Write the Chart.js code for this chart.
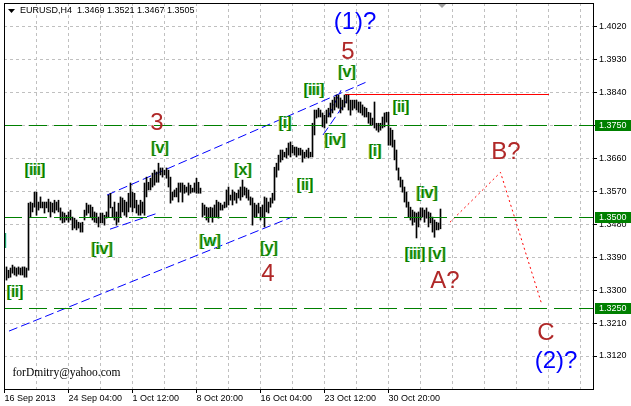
<!DOCTYPE html>
<html>
<head>
<meta charset="utf-8">
<style>
  html, body { margin: 0; padding: 0; background: #fff; }
  canvas { display: block; }
</style>
</head>
<body>
<canvas id="waveChart" width="631" height="406"></canvas>

<script src="https://cdn.jsdelivr.net/npm/chart.js@4.4.0/dist/chart.umd.min.js"></script>

<script>
// EURUSD H4, bar highs / lows (first bar = index 1)
const symbol = 'EURUSD,H4';
const lastQuote = [1.3469, 1.3521, 1.3467, 1.3505];
const firstBar = 1;

const barHigh = [
  1.3363,1.3354,1.3360,1.3368,1.3363,1.3360,1.3363,1.3360,1.3363,1.3363,1.3360,
  1.3537,1.3540,1.3537,1.3567,1.3567,1.3540,1.3554,1.3540,1.3540,1.3540,1.3548,1.3540,1.3537,1.3545,1.3540,1.3545,
  1.3524,1.3513,1.3510,1.3504,1.3513,1.3518,1.3499,1.3496,1.3491,1.3485,1.3483,1.3485,
  1.3518,1.3537,1.3532,1.3532,1.3526,1.3513,1.3510,1.3499,1.3510,1.3510,1.3504,1.3513,1.3559,
  1.3564,1.3526,1.3540,1.3513,1.3537,1.3554,1.3551,1.3545,1.3540,1.3564,1.3592,1.3567,1.3564,1.3545,1.3532,1.3545,1.3540,1.3592,
  1.3608,1.3594,1.3605,1.3619,1.3627,1.3622,1.3646,1.3633,1.3633,1.3627,1.3633,1.3627,1.3608,
  1.3567,1.3573,1.3578,1.3592,1.3592,1.3592,1.3586,1.3581,1.3592,1.3586,1.3578,1.3592,1.3605,1.3594,1.3578,
  1.3537,1.3532,1.3526,1.3524,1.3526,1.3524,1.3532,1.3545,1.3540,
  1.3537,1.3532,1.3540,1.3573,1.3581,1.3559,1.3573,1.3567,1.3564,1.3573,1.3581,1.3600,1.3581,1.3578,
  1.3573,1.3554,1.3551,1.3537,1.3532,1.3537,1.3526,1.3532,1.3554,1.3551,1.3540,1.3551,1.3564,
  1.3635,1.3646,1.3668,1.3682,1.3682,1.3676,1.3687,1.3701,1.3704,1.3695,1.3690,1.3690,1.3687,1.3687,
  1.3682,1.3676,1.3682,1.3687,1.3676,1.3755,1.3791,1.3791,1.3796,1.3791,1.3783,1.3777,1.3791,1.3796,
  1.3810,1.3818,1.3826,1.3832,1.3832,1.3824,1.3818,1.3832,1.3832,1.3832,1.3818,1.3818,1.3818,1.3818,
  1.3813,1.3813,1.3805,1.3799,1.3796,1.3785,1.3783,1.3769,1.3813,1.3755,1.3755,1.3755,1.3772,1.3783,
  1.3785,1.3785,1.3742,1.3736,1.3709,1.3682,1.3633,1.3608,1.3600,1.3581,1.3567,1.3540,1.3526,1.3518,
  1.3513,1.3510,1.3513,1.3524,1.3524,1.3518,1.3524,1.3513,1.3510,1.3499,1.3491,1.3485,1.3483,1.3521
];
const barLow = [
  1.3327,1.3333,1.3335,1.3346,1.3341,1.3338,1.3343,1.3341,1.3341,1.3335,1.3335,
  1.3354,1.3499,1.3513,1.3526,1.3504,1.3518,1.3524,1.3524,1.3510,1.3524,1.3513,1.3499,1.3513,1.3510,1.3518,1.3513,
  1.3491,1.3483,1.3485,1.3491,1.3485,1.3491,1.3464,1.3469,1.3464,1.3469,1.3458,1.3458,
  1.3491,1.3504,1.3510,1.3499,1.3491,1.3485,1.3483,1.3472,1.3483,1.3483,1.3477,1.3496,1.3499,
  1.3524,1.3499,1.3491,1.3477,1.3485,1.3499,1.3513,1.3504,1.3499,1.3513,1.3526,1.3513,1.3524,1.3510,1.3504,1.3504,1.3510,1.3504,
  1.3554,1.3573,1.3573,1.3581,1.3586,1.3594,1.3594,1.3614,1.3608,1.3614,1.3605,1.3581,1.3537,
  1.3545,1.3554,1.3554,1.3540,1.3567,1.3540,1.3564,1.3567,1.3559,1.3564,1.3567,1.3567,1.3564,1.3564,1.3564,
  1.3499,1.3504,1.3491,1.3485,1.3499,1.3485,1.3499,1.3499,1.3496,
  1.3518,1.3518,1.3524,1.3526,1.3532,1.3545,1.3532,1.3545,1.3537,1.3551,1.3545,1.3554,1.3559,1.3551,
  1.3545,1.3532,1.3477,1.3499,1.3499,1.3510,1.3491,1.3499,1.3472,1.3513,1.3510,1.3526,1.3537,
  1.3545,1.3608,1.3627,1.3649,1.3655,1.3663,1.3660,1.3668,1.3663,1.3674,1.3668,1.3663,1.3668,1.3668,
  1.3649,1.3660,1.3663,1.3660,1.3663,1.3663,1.3723,1.3769,1.3772,1.3772,1.3745,1.3742,1.3755,1.3772,
  1.3772,1.3783,1.3791,1.3799,1.3796,1.3783,1.3791,1.3799,1.3810,1.3791,1.3777,1.3791,1.3796,1.3791,
  1.3785,1.3783,1.3777,1.3772,1.3772,1.3755,1.3750,1.3750,1.3742,1.3736,1.3731,1.3736,1.3742,1.3745,
  1.3758,1.3695,1.3695,1.3690,1.3655,1.3627,1.3600,1.3581,1.3567,1.3540,1.3526,1.3499,1.3491,1.3477,
  1.3485,1.3442,1.3472,1.3491,1.3499,1.3485,1.3496,1.3472,1.3483,1.3458,1.3444,1.3464,1.3464,1.3467
];

// time axis: a grid line every 16 bars, a label every 32
const gridBars = [0,16,32,48,64,80,96,112,128,144,160,176,192,208,224,240,256,272,288];
const tickBars = [0, 32, 64, 96, 128, 160, 192];
const tickTexts = ['16 Sep 2013', '24 Sep 04:00', '1 Oct 12:00', '8 Oct 20:00', '16 Oct 04:00', '23 Oct 12:00', '30 Oct 20:00'];

// price axis
const priceTicks = [1.3120, 1.3210, 1.3300, 1.3390, 1.3480, 1.3570, 1.3660, 1.3750, 1.3840, 1.3930, 1.4020];
const keyLevels = [1.3750, 1.3500, 1.3250];

// analyst drawings, in [bar, price]
const channelFrom = [[2.25, 1.3188], [51.25, 1.3559], [52.75, 1.3466], [159.25, 1.3723], [161.75, 1.3772]];
const channelTo   = [[143.75, 1.3499], [180.75, 1.3867], [76.75, 1.3510], [171.25, 1.3818], [168.25, 1.3845]];
const targetPath  = [[222.75, 1.3485], [248.0, 1.3621], [268.75, 1.3259]];
const peakLevel = 1.3834, peakFrom = 170.25, peakTo = 272.25;

// wave counts
const waveText  = ['[i]','[ii]','[iii]','[iv]','[v]','3','[w]','[x]','[y]','4','[i]','[ii]','[iii]','[iv]','[v]','5','(1)?',
                   '[i]','[ii]','[iii]','[iv]','[v]','A?','B?','C','(2)?'];
const waveBar   = [-2.25, 5.25, 15.25, 48.75, 77.75, 76.25, 102.75, 119.25, 132.25, 131.75, 140.25, 150.25, 154.75, 165.25, 171.25, 171.75, 175.25,
                   185.25, 198.25, 205.25, 211.25, 216.25, 220.25, 250.75, 270.75, 275.75];
const wavePrice = [1.3436, 1.3294, 1.3627, 1.3409, 1.3687, 1.3761, 1.3431, 1.3627, 1.3414, 1.3349, 1.3755, 1.3584, 1.3845, 1.3709, 1.3892, 1.3955, 1.4030,
                   1.3679, 1.3799, 1.3398, 1.3562, 1.3398, 1.3330, 1.3682, 1.3188, 1.3103];
const waveDegree = ['m','m','m','m','m','M','m','m','m','M','m','m','m','m','m','M','I',
                    'm','m','m','m','m','M','M','M','I'];

const degreeStyle = {
  m: { color: '#137a00', size: 17, fringe: true },
  M: { color: '#b02828', size: 24, fringe: false },
  I: { color: '#0000ff', size: 24, fringe: false }
};

const FONT = '"Liberation Sans", Arial, sans-serif';

const bars = barHigh.map((h, i) => ({ x: firstBar + i, y: [barLow[i], h] }));

function clipArea(ctx, a) {
  ctx.beginPath();
  ctx.rect(a.left, a.top, a.right - a.left, a.bottom - a.top);
  ctx.clip();
}

const drawings = {
  id: 'drawings',
  beforeDatasetsDraw(chart) {
    const { ctx, chartArea: a, scales: { x, y } } = chart;
    ctx.save();
    clipArea(ctx, a);
    ctx.lineWidth = 1;

    // top of wave 5
    ctx.strokeStyle = '#ff0000';
    const ry = Math.round(y.getPixelForValue(peakLevel)) + 0.5;
    ctx.beginPath(); ctx.moveTo(x.getPixelForValue(peakFrom), ry); ctx.lineTo(x.getPixelForValue(peakTo), ry); ctx.stroke();

    // channels
    ctx.strokeStyle = '#0000ff';
    ctx.setLineDash([9, 4]);
    channelFrom.forEach((p, i) => {
      const q = channelTo[i];
      ctx.beginPath();
      ctx.moveTo(x.getPixelForValue(p[0]), y.getPixelForValue(p[1]));
      ctx.lineTo(x.getPixelForValue(q[0]), y.getPixelForValue(q[1]));
      ctx.stroke();
    });

    // expected A-B-C path
    ctx.strokeStyle = '#ff0000';
    ctx.setLineDash([2, 3]);
    ctx.beginPath();
    targetPath.forEach((p, i) => {
      const px = x.getPixelForValue(p[0]), py = y.getPixelForValue(p[1]);
      if (i === 0) ctx.moveTo(px, py); else ctx.lineTo(px, py);
    });
    ctx.stroke();
    ctx.restore();
  },
  afterDatasetsDraw(chart) {
    const { ctx, chartArea: a, scales: { x, y } } = chart;
    ctx.save();
    clipArea(ctx, a);

    // support / resistance levels
    ctx.lineWidth = 1;
    ctx.strokeStyle = '#008000';
    ctx.setLineDash([18, 7]);
    keyLevels.forEach(v => {
      const py = Math.round(y.getPixelForValue(v)) + 0.5;
      ctx.beginPath(); ctx.moveTo(a.left, py); ctx.lineTo(a.right, py); ctx.stroke();
    });
    ctx.setLineDash([]);

    ctx.textAlign = 'center';
    ctx.textBaseline = 'alphabetic';
    waveText.forEach((t, i) => {
      const s = degreeStyle[waveDegree[i]];
      const px = x.getPixelForValue(waveBar[i]);
      const py = y.getPixelForValue(wavePrice[i]) + s.size * (/^[\[(]/.test(t) ? 0.26 : 0.36);
      ctx.font = s.size + 'px ' + FONT;
      if (s.fringe) {
        ctx.fillStyle = 'rgba(190,190,0,0.9)'; ctx.fillText(t, px - 0.8, py);
        ctx.fillStyle = 'rgba(0,200,200,0.8)'; ctx.fillText(t, px + 0.8, py);
      }
      ctx.fillStyle = s.color;
      ctx.fillText(t, px, py);
    });
    ctx.restore();
  },
  afterDraw(chart) {
    const { ctx, chartArea: a, scales: { x, y } } = chart;
    ctx.save();
    // frame
    ctx.strokeStyle = '#000';
    ctx.lineWidth = 1;
    ctx.strokeRect(a.left + 0.5, a.top + 0.5, a.right - a.left, a.bottom - a.top);

    // highlighted price boxes on the axis
    ctx.font = '9px ' + FONT;
    ctx.textAlign = 'left';
    ctx.textBaseline = 'middle';
    keyLevels.forEach(v => {
      const py = Math.round(y.getPixelForValue(v));
      ctx.fillStyle = '#008000';
      ctx.fillRect(a.right + 2, py - 5, 36, 11);
      ctx.fillStyle = '#fff';
      ctx.fillText(v.toFixed(4), a.right + 6, py + 0.5);
    });

    // header
    ctx.fillStyle = '#000';
    ctx.beginPath(); ctx.moveTo(8, 9); ctx.lineTo(15, 9); ctx.lineTo(11.5, 13); ctx.closePath(); ctx.fill();
    ctx.fillText(symbol + '  ' + lastQuote.map(v => v.toFixed(4)).join(' '), 20, 11);

    // chart shift marker
    const sx = x.getPixelForValue(firstBar + barHigh.length - 0.25);
    ctx.fillStyle = '#a0a0a0';
    ctx.beginPath(); ctx.moveTo(sx - 4, a.top + 1); ctx.lineTo(sx + 4, a.top + 1); ctx.lineTo(sx, a.top + 5); ctx.closePath(); ctx.fill();

    // signature
    ctx.fillStyle = '#000';
    ctx.font = '11.5px "Liberation Serif", serif';
    ctx.textBaseline = 'alphabetic';
    ctx.fillText('forDmitry@yahoo.com', 12.5, 376);
    ctx.restore();
  }
};

const noPad = s => { s.paddingLeft = 0; s.paddingRight = 0; s.paddingTop = 0; s.paddingBottom = 0; };

new Chart(document.getElementById('waveChart'), {
  type: 'bar',
  data: {
    datasets: [{
      data: bars,
      backgroundColor: '#000',
      borderWidth: 0,
      barThickness: 1
    }]
  },
  options: {
    responsive: false,
    animation: false,
    devicePixelRatio: 1,
    layout: { autoPadding: false, padding: { left: 4, top: 3, right: 0, bottom: 0 } },
    plugins: { legend: { display: false }, tooltip: { enabled: false } },
    scales: {
      x: {
        type: 'linear',
        min: -0.25,
        max: 294.25,
        offset: false,
        grid: {
          offset: false,
          color: '#c0c0c0',
          tickLength: 4,
          tickBorderDash: [],
          tickColor: c => tickBars.includes(c.tick.value) ? '#000' : 'rgba(0,0,0,0)'
        },
        border: { display: false, dash: [3, 3] },
        afterBuildTicks: s => { s.ticks = gridBars.map(v => ({ value: v })); },
        afterFit: s => { s.height = 17; noPad(s); },
        ticks: {
          autoSkip: false,
          maxRotation: 0,
          minRotation: 0,
          align: 'start',
          padding: 0,
          color: '#000',
          font: { family: FONT, size: 9 },
          callback: v => { const i = tickBars.indexOf(v); return i < 0 ? '' : tickTexts[i]; }
        }
      },
      y: {
        type: 'linear',
        position: 'right',
        min: 1.3030,
        max: 1.4083,
        beginAtZero: false,
        grid: { color: '#c0c0c0', tickLength: 4, tickBorderDash: [], tickColor: '#000' },
        border: { display: false, dash: [3, 3] },
        afterBuildTicks: s => { s.ticks = priceTicks.map(v => ({ value: v })); },
        afterFit: s => { s.width = 38; noPad(s); },
        ticks: {
          autoSkip: false,
          padding: 2,
          color: '#000',
          font: { family: FONT, size: 9 },
          callback: v => v.toFixed(4)
        }
      }
    }
  },
  plugins: [drawings]
});
</script>
</body>
</html>
